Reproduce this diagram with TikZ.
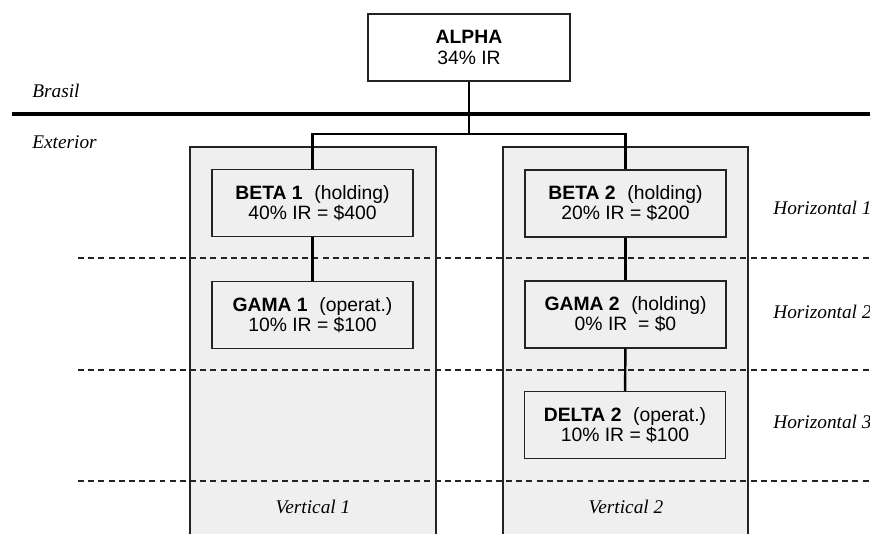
\documentclass[tikz,border=0pt]{standalone}
\usepackage{fontspec}
\setmainfont{Liberation Serif}
\setsansfont{Liberation Sans}
\usepackage{xcolor}
\definecolor{panelgray}{RGB}{239,239,239}
\definecolor{edge}{RGB}{35,35,35}
\usetikzlibrary{positioning,calc}

\begin{document}
\begin{tikzpicture}[x=0.02cm, y=-0.02cm,
        entity/.style={rectangle, draw=edge, line width=0.6pt, fill=panelgray, minimum width=4.02cm, minimum height=1.34cm, inner sep=0pt, align=center, font=\sffamily\fontsize{11}{11.5}\selectfont},
        panel/.style={draw=edge, line width=0.6pt, fill=panelgray},
        link/.style={line width=1.4pt, black},
        layer/.style={dashed, dash pattern=on 3.4pt off 2.4pt, edge, line width=0.6pt},
        border/.style={line width=2.6pt, black},
        tag/.style={font=\itshape\fontsize{11}{12}\selectfont, inner sep=0pt}
    ]
        \useasboundingbox (0,0) rectangle (870,534);
        \clip (0,0) rectangle (870,534);

        % vertical panels
        \draw[panel] (190,147) rectangle (436,560);
        \draw[panel] (503,147) rectangle (748,560);

        % layers
        \foreach \y in {258,370,481} {
            \draw[layer] (78,\y) -- (870,\y);
        }

        % Brasil / Exterior
        \draw[border] (12,114) -- (870,114);
        \node[tag, anchor=base west] (brasil) at (32,97) {Brasil};
        \node[tag, anchor=base west] (exterior) at (32,148) {Exterior};

        \node[entity, fill=white, minimum width=4.04cm] (alpha) at (469,47.5) {\textbf{ALPHA}\\34\% IR};

        \node[entity] (beta1) at (312.5,203) {\textbf{BETA 1}\hspace{0.6em}(holding)\\40\% IR = \$400};
        \node[entity] (gama1) at (312.5,315) {\textbf{GAMA 1}\hspace{0.6em}(operat.)\\10\% IR = \$100};
        \node[entity] (beta2) at (625.5,203.5) {\textbf{BETA 2}\hspace{0.6em}(holding)\\20\% IR = \$200};
        \node[entity] (gama2) at (625.5,314.5) {\textbf{GAMA 2}\hspace{0.6em}(holding)\\0\% IR \ = \$0};
        \node[entity] (delta2) at (625,425) {\textbf{DELTA 2}\hspace{0.6em}(operat.)\\10\% IR = \$100};

        \coordinate (split) at (469,134);
        \draw[link] (alpha.south) -- (split);
        \draw[link] (beta1.north) |- (split) -| (beta2.north);
        \draw[link] (beta1) -- (gama1);
        \draw[link] (beta2) -- (gama2);
        \draw[link] (gama2) -- (delta2);

        \node[tag, anchor=base west] (h1) at (773,214) {Horizontal 1};
        \node[tag, anchor=base west] (h2) at (773,318) {Horizontal 2};
        \node[tag, anchor=base west] (h3) at (773,428) {Horizontal 3};
        \node[tag, anchor=base] (v1) at (313,513) {Vertical 1};
        \node[tag, anchor=base] (v2) at (626,513) {Vertical 2};
    \end{tikzpicture}
\end{document}
